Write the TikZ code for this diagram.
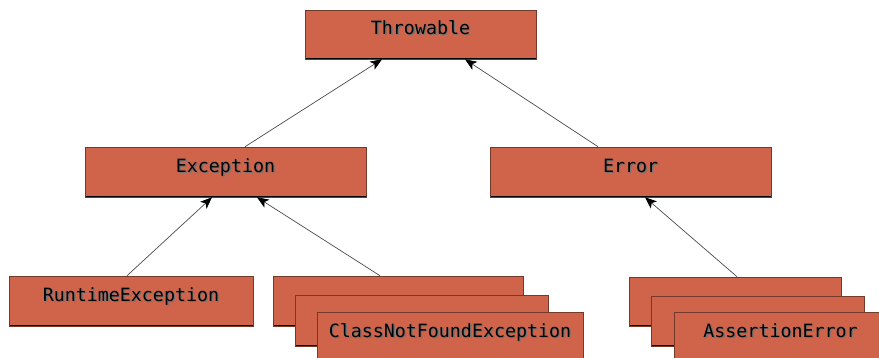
\documentclass[tikz,border=0pt]{standalone}
\usepackage{fontspec}
\setmonofont{DejaVu Sans Mono}
\usetikzlibrary{arrows.meta}

\definecolor{clsfill}{RGB}{208,100,75}
\definecolor{clsedge}{RGB}{115,58,44}
\newcommand{\ombre}[1]{\makebox[0pt][l]{\hspace{1.1pt}\raisebox{-1.1pt}{\color{black!55}#1}}#1}

\tikzset{
    classe/.style={rectangle, fill=clsfill, draw=clsedge, line width=0.5pt,
        inner sep=0pt, text height=0.9em, text depth=0.9em,
        font=\ttfamily\fontsize{15.6}{18}\selectfont,
        path picture={\draw[black, line width=2.2pt]
            (path picture bounding box.south west) -- (path picture bounding box.south east);}},
    herite/.style={draw=black!70, line width=0.6pt, -{Stealth[length=10pt, width=8pt, inset=2.5pt, fill=black, color=black]}}
}

\begin{document}
\begin{tikzpicture}[x=0.03cm, y=-0.03cm]
    \clip (0, 0) rectangle (879, 357);
    \useasboundingbox (0, 0) rectangle (879, 357);

    % Classes
    \node[classe, minimum width=6.93cm, minimum height=1.47cm] (throwable) at (420.5, 34.5) {\ombre{Throwable}};
    \node[classe, minimum width=8.43cm, minimum height=1.5cm] (exception) at (225.5, 172) {\ombre{Exception}};
    \node[classe, minimum width=8.43cm, minimum height=1.5cm] (error) at (630.5, 172) {\ombre{Error}};
    \node[classe, minimum width=7.32cm, minimum height=1.5cm] (runtime) at (131, 301) {\ombre{RuntimeException}};

    % Sous-classes empilees
    \node[classe, minimum width=7.5cm, minimum height=1.5cm] (cnfA) at (398, 301) {};
    \node[classe, minimum width=7.59cm, minimum height=1.53cm] (cnfB) at (421.5, 320.5) {};
    \node[classe, minimum width=7.98cm, minimum height=1.5cm] (cnf) at (450, 337) {\ombre{ClassNotFoundException}};

    \node[classe, minimum width=6.36cm, minimum height=1.47cm] (assertA) at (735, 301.5) {};
    \node[classe, minimum width=6.39cm, minimum height=1.5cm] (assertB) at (757.5, 321) {};
    \node[classe, minimum width=6.39cm, minimum height=1.5cm] (assert) at (780.5, 337) {\ombre{AssertionError}};

    % Heritage
    \draw[herite] ([xshift=0.585cm]exception.north) -- ([xshift=-1.155cm]throwable.south);
    \draw[herite] ([xshift=-0.975cm]error.north) -- ([xshift=1.335cm]throwable.south);
    \draw[herite] ([xshift=-0.12cm]runtime.north) -- ([xshift=-0.405cm]exception.south);
    \draw[herite] ([xshift=-0.54cm]cnfA.north) -- ([xshift=0.945cm]exception.south);
    \draw[herite] ([xshift=0.06cm]assertA.north) -- ([xshift=0.435cm]error.south);

\end{tikzpicture}
\end{document}
